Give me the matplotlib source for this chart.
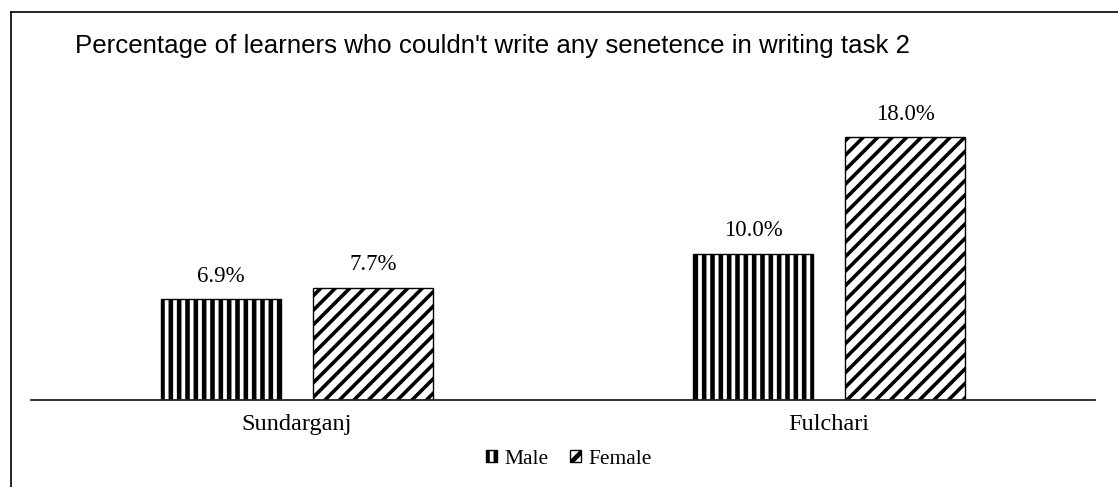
import matplotlib
matplotlib.use("Agg")
import matplotlib.pyplot as plt
from matplotlib.lines import Line2D
from matplotlib.patches import Patch
from matplotlib.collections import LineCollection
from matplotlib.transforms import IdentityTransform
import numpy as np

# Data
districts = ["Sundarganj", "Fulchari"]
series_names = ["Male", "Female"]
male_pct = [6.9, 10.0]
female_pct = [7.7, 18.0]
title_text = "Percentage of learners who couldn't write any senetence in writing task 2"

plt.rcParams["hatch.color"] = "black"
plt.rcParams["hatch.linewidth"] = 3.3

W, H = 1118, 487
DPI = 100
fig = plt.figure(figsize=(W / DPI, H / DPI), dpi=DPI)
fig.patch.set_facecolor("white")

# axes placement in pixels
ax_left, ax_right = 31, 1095
ax_base, ax_top = 400, 108
ax = fig.add_axes([ax_left / W, 1 - ax_base / H, (ax_right - ax_left) / W, (ax_base - ax_top) / H])

x = np.arange(len(districts))
bar_w = 120 / 532
offset = 76 / 532

# Male: vertical stripes via hatch
male_bars = ax.bar(x - offset, male_pct, width=bar_w, color="white", edgecolor="black",
                   linewidth=1.0, hatch="||", zorder=2)

# Female: white bars with diagonal stripes clipped to each bar
female_bars = ax.bar(x + offset, female_pct, width=bar_w, color="white", edgecolor="none",
                     linewidth=0, zorder=1)
stripe_period = 14.5  # horizontal spacing of stripes, px
span = np.arange(-H, W + H, stripe_period)
segs = [[(s, 0), (s + H, H)] for s in span]
for b in female_bars:
    lc = LineCollection(segs, colors="black", linewidths=2.6, transform=IdentityTransform(),
                        zorder=1.5)
    ax.add_collection(lc, autolim=False)
    lc.set_clip_path(b.get_path(), b.get_transform())
ax.bar(x + offset, female_pct, width=bar_w, fill=False, edgecolor="black",
       linewidth=1.0, zorder=2)

for bars, vals in [(male_bars, male_pct), (female_bars, female_pct)]:
    for b, v in zip(bars, vals):
        ax.annotate(f"{v:.1f}%", (b.get_x() + b.get_width() / 2, v),
                    xytext=(0, 9), textcoords="offset points",
                    ha="center", va="bottom", fontsize=16.5,
                    family="Liberation Serif")

ax.set_xlim(-0.5, 1.5)
ax.set_ylim(0, 20)
for side in ["left", "right", "top"]:
    ax.spines[side].set_visible(False)
ax.spines["bottom"].set_linewidth(1.3)
ax.spines["bottom"].set_color("#222222")
ax.spines["bottom"].set_zorder(3)
ax.set_yticks([])
ax.set_xticks(x)
ax.set_xticklabels(districts, fontsize=17.5, family="Liberation Serif")
ax.tick_params(axis="x", length=0, pad=10)

# title
fig.text(75 / W, 1 - 46 / H, title_text, ha="left", va="center",
         fontsize=18.6, family="Liberation Sans")

# legend
handles = [Patch(facecolor="white", edgecolor="black", hatch="||", linewidth=1.0),
           Patch(facecolor="white", edgecolor="black", hatch="/", linewidth=1.0)]
leg = fig.legend(handles, series_names, loc="center", bbox_to_anchor=(569 / W, 1 - 459 / H),
                 ncol=2, frameon=False, prop={"family": "Liberation Serif", "size": 15.5},
                 handlelength=0.5, handleheight=0.5, handletextpad=0.35, columnspacing=1.0)

# outer frame (top and left edges)
fig.add_artist(Line2D([10.5 / W, 10.5 / W], [0, 1 - 12 / H], color="black", linewidth=1.2))
fig.add_artist(Line2D([10.5 / W, 1], [1 - 12 / H, 1 - 12 / H], color="black", linewidth=1.2))

fig.savefig("out.png", dpi=DPI, facecolor="white")
